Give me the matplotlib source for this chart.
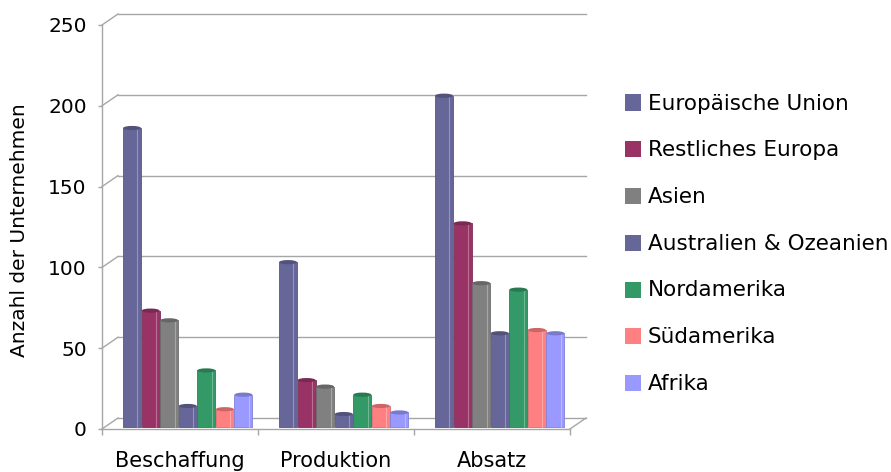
import matplotlib
matplotlib.use("Agg")
import matplotlib.pyplot as plt
from matplotlib import transforms
from matplotlib.patches import Ellipse, Rectangle

categories = ["Beschaffung", "Produktion", "Absatz"]
series_names = ["Europäische Union", "Restliches Europa", "Asien",
                "Australien & Ozeanien", "Nordamerika", "Südamerika", "Afrika"]
eu = [185, 102, 205]
rest_europa = [72, 29, 126]
asien = [66, 25, 89]
australien = [13, 8, 58]
nordamerika = [35, 20, 85]
suedamerika = [11, 13, 60]
afrika = [20, 9, 58]
series_values = [eu, rest_europa, asien, australien, nordamerika, suedamerika, afrika]
colors = ["#666699", "#993366", "#808080", "#666699", "#339966", "#FF8080", "#9999FF"]
yticks = [0, 50, 100, 150, 200, 250]

W, H = 891, 472
fig = plt.figure(figsize=(W / 100, H / 100), dpi=100)
fig.patch.set_facecolor("white")

# front plane in pixel coordinates
left_px, right_px, top_px, bot_px = 102, 570, 25, 429
ax = fig.add_axes([left_px / W, (H - bot_px) / H, (right_px - left_px) / W, (bot_px - top_px) / H])
ax.set_xlim(0, 3)
ax.set_ylim(0, 250)
ax.patch.set_alpha(0)
for s in ["top", "right"]:
    ax.spines[s].set_visible(False)
for s in ["left", "bottom"]:
    ax.spines[s].set_color("#A6A6A6")
    ax.spines[s].set_linewidth(1)

grid_c = "#A6A6A6"
dx, dy = 16, 11
back = transforms.offset_copy(ax.transData, fig=fig, x=dx, y=dy, units="dots")

for yv in yticks:
    ax.plot([0, 3], [yv, yv], color=grid_c, lw=1, transform=back, clip_on=False, zorder=1)
    # diagonal connector on left wall
    x0, y0 = ax.transData.transform((0, yv))
    ax.plot([x0, x0 + dx], [y0, y0 + dy], color=grid_c, lw=1, transform=None, clip_on=False, zorder=1)
# right floor diagonal
x0, y0 = ax.transData.transform((3, 0))
ax.plot([x0, x0 + dx], [y0, y0 + dy], color=grid_c, lw=1, transform=None, clip_on=False, zorder=1)

# ticks
ax.set_yticks(yticks)
ax.set_yticklabels([str(v) for v in yticks])
ax.tick_params(axis="y", length=3, width=1, color=grid_c, pad=8, labelsize=14.5, labelcolor="black")
ax.set_xticks([0, 1, 2, 3])
ax.set_xticklabels([])
ax.tick_params(axis="x", which="major", length=4, width=1, color=grid_c)
ax.set_xticks([0.5, 1.5, 2.5], minor=True)
ax.set_xticklabels(categories, minor=True)
ax.tick_params(axis="x", which="minor", length=0, pad=16, labelsize=15, labelcolor="black")

# bars (pseudo-3D cylinders)
bar_tr = transforms.offset_copy(ax.transData, fig=fig, x=0, y=2, units="dots")
pitch = 0.119
bw = 0.115
start = 0.135
ell_h = 2.6  # in data units (vertical)


def shade(c, f):
    import matplotlib.colors as mc
    r, g, b = mc.to_rgb(c)
    if f < 1:
        return (r * f, g * f, b * f)
    return (r + (1 - r) * (f - 1), g + (1 - g) * (f - 1), b + (1 - b) * (f - 1))


for i, (vals, c) in enumerate(zip(series_values, colors)):
    xs = [g + start + i * pitch for g in range(len(categories))]
    ax.bar(xs, vals, width=bw, align="edge", color=c, edgecolor=shade(c, 0.85), lw=0.6,
           transform=bar_tr, zorder=3 + i * 0.01)
    for x, v in zip(xs, vals):
        # side highlight stripe
        ax.plot([x + bw * 0.8, x + bw * 0.8], [0, v], color=shade(c, 1.3), lw=0.8,
                transform=bar_tr, zorder=3.5 + i * 0.01)
        ax.add_patch(Ellipse((x + bw / 2, v), bw, ell_h, facecolor=shade(c, 0.8),
                             edgecolor="none", transform=bar_tr, zorder=3.6 + i * 0.01))

# y label
fig.text(20 / W, 1 - 230 / H, "Anzahl der Unternehmen", rotation=90, ha="center", va="center",
         fontsize=14.5, color="black")

# legend
rows = [102.5, 149, 196, 243, 289.5, 336, 382.5]
for name, c, yc in zip(series_names, colors, rows):
    fig.patches.append(Rectangle((625 / W, 1 - (yc + 8) / H), 16 / W, 16 / H, facecolor=c,
                                 edgecolor="none", transform=fig.transFigure, figure=fig))
    fig.text(648 / W, 1 - (yc + 1) / H, name, ha="left", va="center", fontsize=15.5, color="black")

fig.savefig("out.png", dpi=100)
